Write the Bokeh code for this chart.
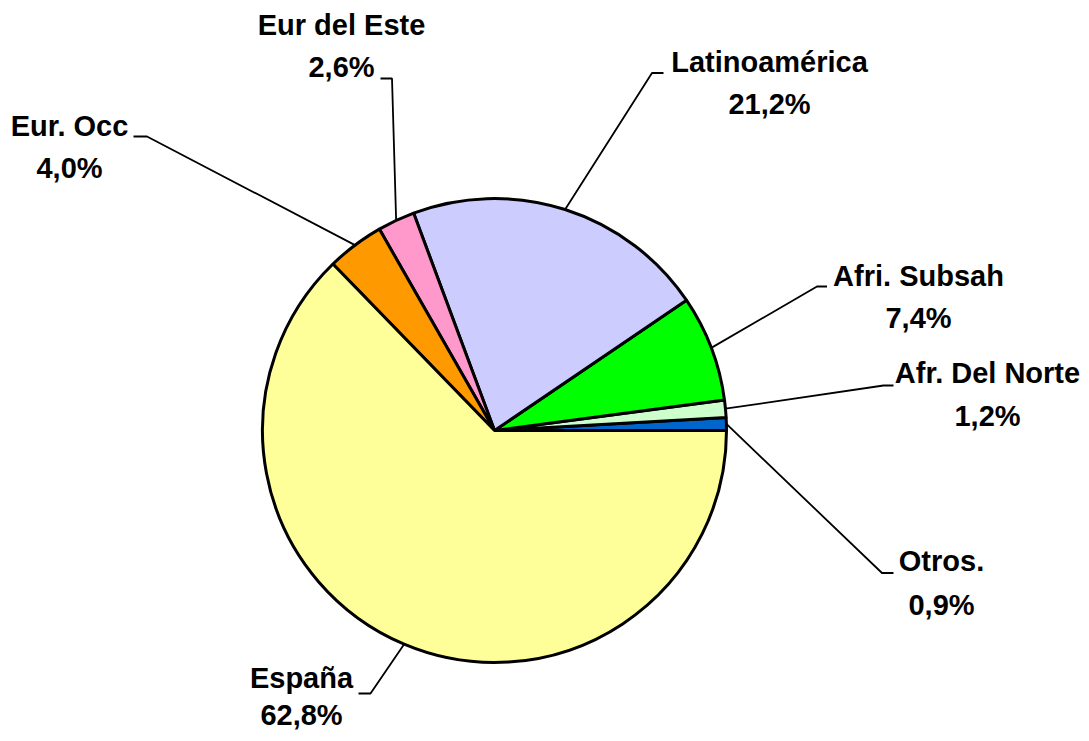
import math
from bokeh.plotting import figure
from bokeh.models import Range1d, ColumnDataSource
from bokeh.core.properties import value
from bokeh.embed import file_html
from bokeh.resources import INLINE

# ---- data (anticlockwise from 3 o'clock) ----
names = ["Otros.", "Afr. Del Norte", "Afri. Subsah", "Latinoamérica",
         "Eur del Este", "Eur. Occ", "España"]
values = [0.9, 1.2, 7.4, 21.2, 2.6, 4.0, 62.8]
colors = ["#0066CC", "#CCFFCC", "#00FF00", "#CCCCFF", "#FF99CC", "#FF9900", "#FFFF99"]
pct_labels = [("%.1f%%" % v).replace(".", ",") for v in values]

# ---- layout (pixel coordinates from the top-left) ----
W, H = 1081, 733
CX, CY, R = 494, 430, 232
label_x = [941, 987, 918, 769, 341, 69, 301]
label_y1 = [560.5, 372, 275, 61, 24.5, 125, 677]
label_y2 = [604, 415, 317, 103, 66, 167, 714]
elbow = [(881.5, 572.5), (883, 385), (816.5, 286), (651.5, 72.5),
         (391.5, 78), (146.5, 136), (370, 693)]
stub_end = [(893, 572.5), (893, 385), (826.5, 286), (663, 72.5),
            (380, 78), (133, 136), (358, 693)]

total = sum(values)
starts, ends, mids = [], [], []
acc = 0.0
for v in values:
    a0 = acc / total * 2 * math.pi
    acc += v
    a1 = acc / total * 2 * math.pi
    starts.append(a0)
    ends.append(a1)
    mids.append((a0 + a1) / 2)

p = figure(width=W, height=H, output_backend="svg", toolbar_location=None,
           x_range=Range1d(0, W), y_range=Range1d(-H, 0),
           min_border=0)
p.axis.visible = False
p.grid.visible = False
p.outline_line_color = None
p.background_fill_color = "white"
p.border_fill_color = "white"

src = ColumnDataSource(dict(x=[CX] * len(values), y=[-CY] * len(values),
                            start=starts, end=ends, color=colors))
p.wedge(x="x", y="y", radius=R, radius_units="data", start_angle="start",
        end_angle="end", direction="anticlock", fill_color="color",
        line_color="black", line_width=3, source=src)

# leader lines
xs, ys = [], []
for i, m in enumerate(mids):
    sx = CX + R * math.cos(m)
    sy = CY - R * math.sin(m)
    xs.append([sx, elbow[i][0], stub_end[i][0]])
    ys.append([-sy, -elbow[i][1], -stub_end[i][1]])
p.multi_line(xs=xs, ys=ys, line_color="black", line_width=1.8)

# labels
tx = label_x + label_x
ty = [-b for b in label_y1] + [-b for b in label_y2]
tt = names + pct_labels
p.text(x=tx, y=ty, text=tt, text_font=value("Liberation Sans"),
       text_font_style="bold", text_font_size="29px", text_align="center",
       text_baseline="alphabetic", text_color="black")

open("out.html", "w").write(file_html(p, INLINE))
